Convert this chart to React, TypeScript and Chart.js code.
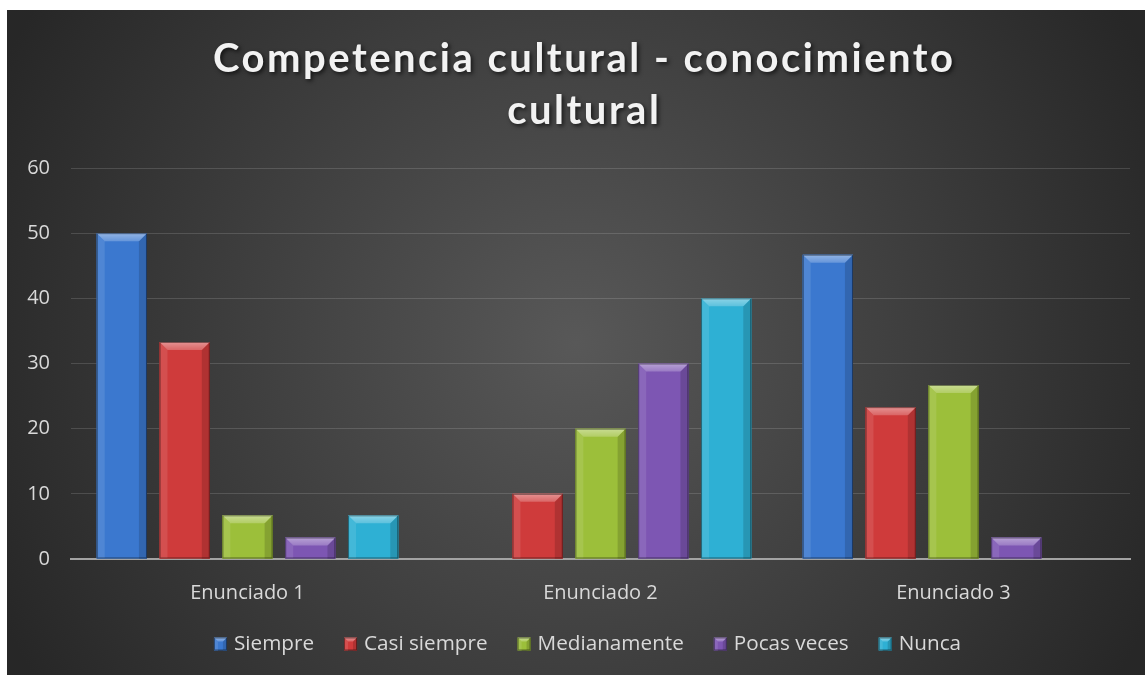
import React, { useEffect, useRef } from 'react';
import { Chart, registerables } from 'chart.js';

Chart.register(...registerables);

const titleLines = ['Competencia cultural - conocimiento', 'cultural'];
const categories = ['Enunciado 1', 'Enunciado 2', 'Enunciado 3'];
const seriesNames = ['Siempre', 'Casi siempre', 'Medianamente', 'Pocas veces', 'Nunca'];
const siempre = [50, 0, 46.7];
const casiSiempre = [33.3, 10, 23.3];
const medianamente = [6.7, 20, 26.7];
const pocasVeces = [3.3, 30, 3.3];
const nunca = [6.7, 40, 0];
const seriesColors = ['#3b78cf', '#cf3b3b', '#9cbf3a', '#7d56b3', '#2eb0d4'];
const yMin = 0;
const yMax = 60;
const yStep = 10;

function shade(hex: string, amt: number): string {
  const n = parseInt(hex.slice(1), 16);
  let r = (n >> 16) & 255, g = (n >> 8) & 255, b = n & 255;
  if (amt >= 0) {
    r = Math.round(r + (255 - r) * amt);
    g = Math.round(g + (255 - g) * amt);
    b = Math.round(b + (255 - b) * amt);
  } else {
    r = Math.round(r * (1 + amt));
    g = Math.round(g * (1 + amt));
    b = Math.round(b * (1 + amt));
  }
  return `rgb(${r},${g},${b})`;
}

const backgroundPlugin = {
  id: 'bgGradient',
  beforeDraw(chart: any) {
    const { ctx, width, height } = chart;
    ctx.save();
    const cx = width * 0.5, cy = height * 0.5;
    const g = ctx.createRadialGradient(cx, cy, 0, cx, cy, width * 0.56);
    g.addColorStop(0, '#585858');
    g.addColorStop(1, '#272727');
    ctx.fillStyle = g;
    ctx.fillRect(0, 0, width, height);
    ctx.restore();
  },
};

function drawBevelBox(ctx: any, l: number, t: number, w: number, h: number, col: string, bvMax: number) {
  const r = l + w, b = t + h;
  const bv = Math.min(bvMax, h / 2, w / 2);
  ctx.fillStyle = col;
  ctx.fillRect(l, t, w, h);
  ctx.fillStyle = shade(col, 0.1);
  ctx.beginPath();
  ctx.moveTo(l, t); ctx.lineTo(l + bv, t + bv); ctx.lineTo(l + bv, b); ctx.lineTo(l, b);
  ctx.closePath(); ctx.fill();
  ctx.fillStyle = shade(col, -0.15);
  ctx.beginPath();
  ctx.moveTo(r, t); ctx.lineTo(r - bv, t + bv); ctx.lineTo(r - bv, b); ctx.lineTo(r, b);
  ctx.closePath(); ctx.fill();
  const tg = ctx.createLinearGradient(0, t, 0, t + bv);
  tg.addColorStop(0, shade(col, 0.45));
  tg.addColorStop(1, shade(col, 0.22));
  ctx.fillStyle = tg;
  ctx.beginPath();
  ctx.moveTo(l, t); ctx.lineTo(r, t); ctx.lineTo(r - bv, t + bv); ctx.lineTo(l + bv, t + bv);
  ctx.closePath(); ctx.fill();
  ctx.strokeStyle = 'rgba(0,0,0,0.45)';
  ctx.lineWidth = 1;
  ctx.strokeRect(l + 0.5, t + 0.5, w - 1, h - 1);
}

const bevelPlugin = {
  id: 'bevel',
  afterDatasetsDraw(chart: any) {
    const ctx = chart.ctx;
    chart.data.datasets.forEach((ds: any, di: number) => {
      const meta = chart.getDatasetMeta(di);
      meta.data.forEach((bar: any, i: number) => {
        const v = ds.data[i];
        if (!v) return;
        const { x, y, base, width } = bar.getProps(['x', 'y', 'base', 'width'], true);
        const t = Math.min(y, base), b = Math.max(y, base);
        ctx.save();
        drawBevelBox(ctx, x - width / 2, t, width, b - t, ds.backgroundColor, 8);
        ctx.restore();
      });
    });
  },
};

const legendPlugin = {
  id: 'bevelLegend',
  afterDraw(chart: any) {
    const { ctx } = chart;
    ctx.save();
    ctx.font = '20.7px "Open Sans"';
    ctx.textBaseline = 'middle';
    ctx.textAlign = 'left';
    const box = 13, gap = 7, itemGap = 30;
    const items = chart.data.datasets.map((ds: any) => ({
      label: ds.label,
      color: ds.backgroundColor,
      w: ctx.measureText(ds.label).width,
    }));
    const total = items.reduce((s: number, it: any) => s + box + gap + it.w, 0) + itemGap * (items.length - 1);
    let x = 580.5 - total / 2;
    const cy = 634;
    items.forEach((it: any) => {
      drawBevelBox(ctx, x, cy - box / 2, box, box, it.color, 4);
      ctx.fillStyle = '#d9d9d9';
      ctx.fillText(it.label, x + box + gap, cy);
      x += box + gap + it.w + itemGap;
    });
    ctx.restore();
  },
};

const titlePlugin = {
  id: 'bevelTitle',
  afterDraw(chart: any) {
    const { ctx, width } = chart;
    ctx.save();
    ctx.font = 'bold 40px Lato';
    ctx.textAlign = 'center';
    ctx.textBaseline = 'alphabetic';
    const w0 = ctx.measureText(titleLines[0]).width;
    const ls = Math.max(0, (740 - w0) / (titleLines[0].length - 1));
    (ctx as any).letterSpacing = ls + 'px';
    ctx.shadowColor = 'rgba(0,0,0,0.65)';
    ctx.shadowBlur = 4;
    ctx.shadowOffsetX = 2;
    ctx.shadowOffsetY = 2;
    ctx.fillStyle = '#f2f2f2';
    const cx = width / 2 + 7 + ls / 2;
    ctx.fillText(titleLines[0], cx, 62);
    ctx.fillText(titleLines[1], cx, 114);
    ctx.restore();
  },
};

export default function App() {
  const canvasRef = useRef<HTMLCanvasElement | null>(null);

  useEffect(() => {
    if (!canvasRef.current) return;
    const seriesData = [siempre, casiSiempre, medianamente, pocasVeces, nunca];
    const chart = new Chart(canvasRef.current, {
      type: 'bar',
      data: {
        labels: categories,
        datasets: seriesNames.map((name, i) => ({
          label: name,
          data: seriesData[i],
          backgroundColor: seriesColors[i],
          borderWidth: 0,
          categoryPercentage: 0.89,
          barPercentage: 0.8,
        })),
      },
      options: {
        responsive: false,
        animation: false,
        devicePixelRatio: 1,
        layout: { padding: { top: 158, left: 0, right: 15, bottom: 52 } },
        plugins: {
          title: { display: false },
          tooltip: { enabled: false },
          legend: { display: false },
        },
        scales: {
          x: {
            grid: { display: false },
            border: { display: true, color: '#a3a3a3', width: 2 },
            ticks: {
              color: '#d9d9d9',
              font: { family: '"Open Sans"', size: 20 },
              padding: 14,
            },
            afterFit(scale: any) {
              scale.height = 64;
            },
          },
          y: {
            min: yMin,
            max: yMax,
            ticks: {
              stepSize: yStep,
              color: '#d9d9d9',
              font: { family: '"Open Sans"', size: 20 },
              padding: 21,
            },
            grid: { color: 'rgba(255,255,255,0.14)', lineWidth: 1, drawTicks: false },
            border: { display: false },
            afterFit(scale: any) {
              scale.width = 64;
            },
          },
        },
      },
      plugins: [backgroundPlugin, bevelPlugin, legendPlugin, titlePlugin],
    });
    return () => chart.destroy();
  }, []);

  return (
    <div style={{ position: 'fixed', left: 0, top: 0, width: 1145, height: 675, background: '#ffffff', overflow: 'hidden' }}>
      <div style={{ position: 'absolute', left: 7, top: 10, width: 1138, height: 665 }}>
        <canvas ref={canvasRef} width={1138} height={665} style={{ display: 'block' }} />
      </div>
    </div>
  );
}
